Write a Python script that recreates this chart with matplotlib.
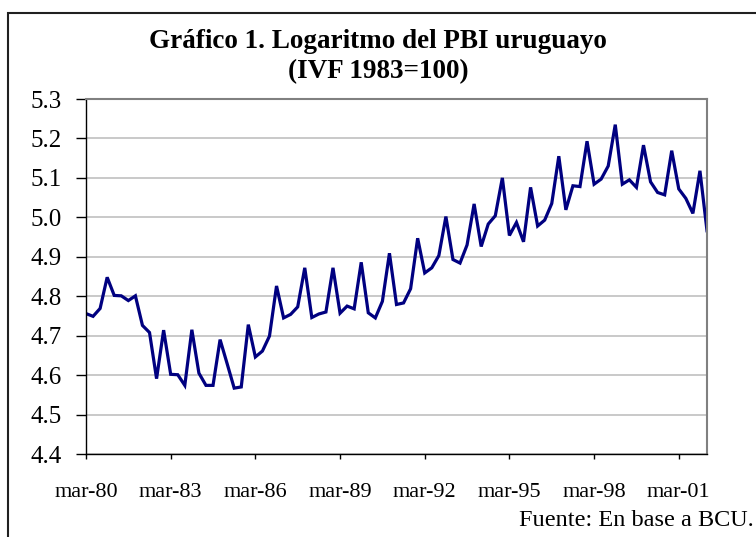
import numpy as np
import matplotlib
matplotlib.use('Agg')
import matplotlib.pyplot as plt
from matplotlib.patches import Rectangle

# log of quarterly GDP volume index, mar-80 .. mar-02
log_pbi = [4.756, 4.749, 4.769, 4.848, 4.802, 4.801, 4.789, 4.801,
           4.726, 4.708, 4.591, 4.714, 4.602, 4.601, 4.574, 4.715,
           4.605, 4.574, 4.574, 4.690, 4.629, 4.567, 4.570, 4.728,
           4.646, 4.661, 4.699, 4.826, 4.745, 4.754, 4.773, 4.872,
           4.746, 4.755, 4.760, 4.872, 4.757, 4.775, 4.768, 4.886,
           4.758, 4.745, 4.787, 4.909, 4.779, 4.783, 4.819, 4.947,
           4.859, 4.872, 4.903, 5.002, 4.893, 4.884, 4.930, 5.034,
           4.926, 4.983, 5.004, 5.100, 4.954, 4.987, 4.938, 5.076,
           4.978, 4.993, 5.035, 5.155, 5.019, 5.080, 5.078, 5.193,
           5.084, 5.097, 5.130, 5.235, 5.084, 5.095, 5.076, 5.183,
           5.090, 5.063, 5.057, 5.169, 5.072, 5.048, 5.010, 5.118,
           4.966]
tick_labels = ['mar-80', 'mar-83', 'mar-86', 'mar-89', 'mar-92', 'mar-95', 'mar-98', 'mar-01']
y_ticks = [4.4, 4.5, 4.6, 4.7, 4.8, 4.9, 5.0, 5.1, 5.2, 5.3]

plt.rcParams['font.family'] = ['Liberation Serif', 'DejaVu Serif']

fig = plt.figure(figsize=(7.56, 5.37), dpi=100)
ax = fig.add_axes([86/756, 83/537, 621/756, 355/537])

x = np.arange(len(log_pbi))
ax.plot(x, log_pbi, color='#000080', lw=2.3, solid_joinstyle='miter')

ax.set_xlim(0, len(log_pbi) - 1)
ax.set_ylim(4.4, 5.3)
ax.set_xticks(x[::12])
ax.set_xticklabels(tick_labels, fontsize=16)
ax.set_yticks(y_ticks)
ax.set_yticklabels(['%.1f' % v for v in y_ticks], fontsize=18)
ax.tick_params(axis='x', length=3.6, width=1, pad=17.5, direction='out')
ax.tick_params(axis='y', length=7.2, width=1, pad=10, direction='out')

ax.yaxis.grid(True, color='#c0c0c0', lw=1.2)
ax.set_axisbelow(True)
for s in ['top', 'right']:
    ax.spines[s].set_color('#808080')
    ax.spines[s].set_linewidth(1.5)
for s in ['left', 'bottom']:
    ax.spines[s].set_color('black')
    ax.spines[s].set_linewidth(1.0)

# titles and source
fig.text(0.5, 1 - 42/537, 'Gráfico 1. Logaritmo del PBI uruguayo', ha='center', va='center',
         fontsize=19.5, fontweight='bold')
fig.text(0.5, 1 - 72/537, '(IVF 1983=100)', ha='center', va='center',
         fontsize=19.5, fontweight='bold')
fig.text(754/756, 1 - 521/537, 'Fuente: En base a BCU.', ha='right', va='center', fontsize=17.5)

# outer frame of the chart object
fig.patches.append(Rectangle((8/756, -0.05), 1.1, 0.05 + (537 - 13)/537, transform=fig.transFigure,
                             fill=False, edgecolor='#202020', lw=1.5))

fig.savefig('out.png', dpi=100)
